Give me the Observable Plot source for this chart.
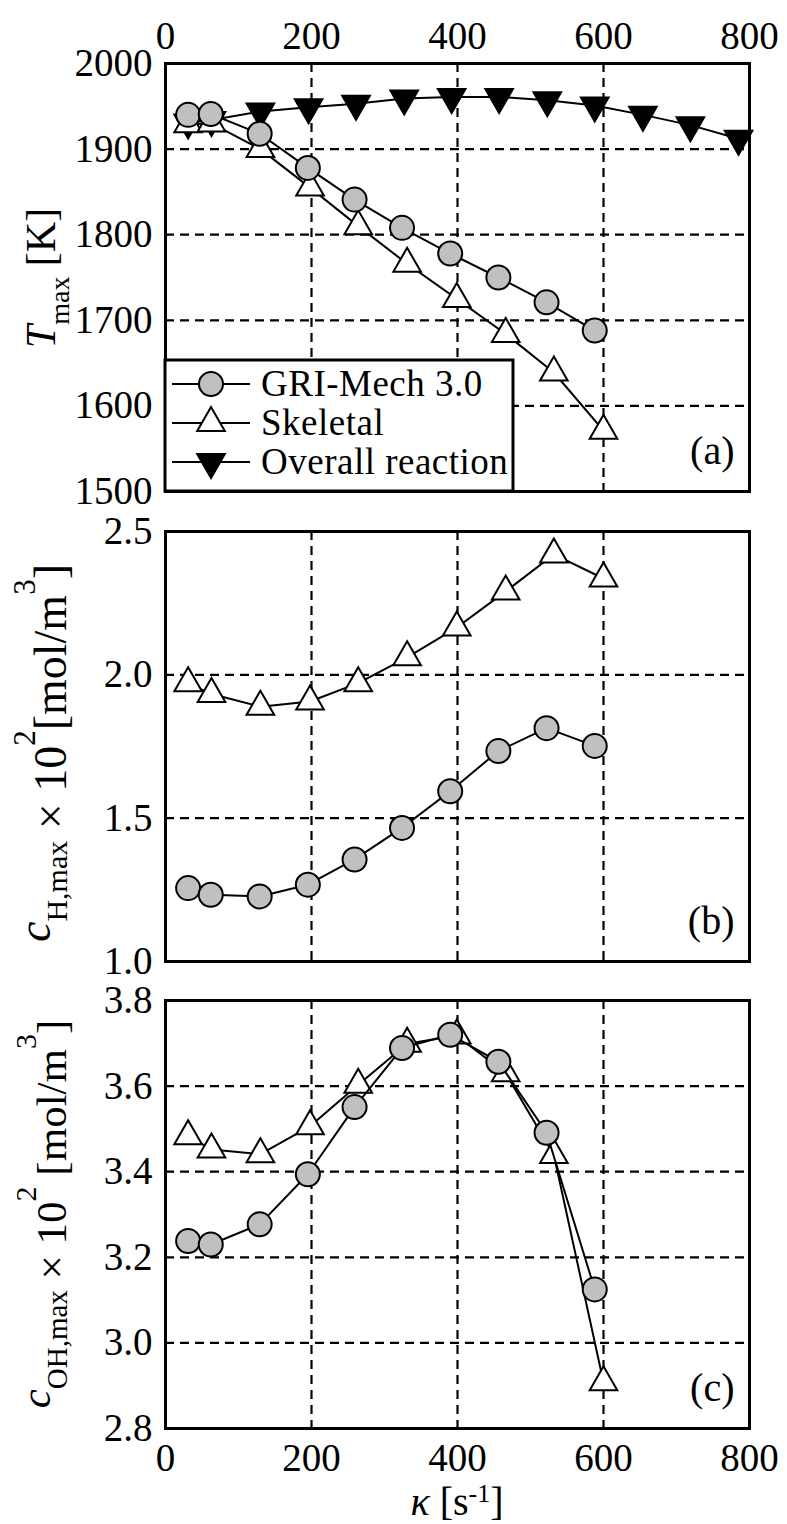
<!DOCTYPE html>
<html>
<head>
<meta charset="utf-8">
<script src="https://cdn.jsdelivr.net/npm/d3@7"></script>
<script src="https://cdn.jsdelivr.net/npm/@observablehq/plot@0.6"></script>
<style>
  html, body { margin: 0; padding: 0; background: #fff; }
  #chart { position: relative; width: 787px; height: 1524px; overflow: hidden; background: #fff; }
  #chart svg { position: absolute; left: 0; overflow: visible; max-width: none !important; }
  #chart svg text { font-family: "Liberation Serif", "Times New Roman", serif !important; fill: #000; }
</style>
</head>
<body>
<div id="chart"></div>
<script>
// ---- data ----
const kGRI = [31, 62, 129, 195, 259, 324, 390, 456, 522, 588];
const kSkel = [31, 63, 130, 198, 264, 331, 399, 466, 532, 600];
const kOverall = [31, 63, 130, 196, 261, 327, 392, 457, 523, 588, 654, 719, 785];

const TmaxGRI = [1940, 1941, 1918, 1878, 1841, 1808, 1778, 1750, 1721, 1688];
const TmaxSkel = [1929, 1930, 1900, 1855, 1810, 1766, 1725, 1684, 1639, 1571];
const TmaxOverall = [1931, 1934, 1944, 1949, 1953, 1959, 1961, 1961, 1957, 1951, 1940, 1928, 1912];

const cHGRI = [1.256, 1.233, 1.227, 1.268, 1.356, 1.466, 1.594, 1.734, 1.814, 1.752];
const cHSkel = [1.971, 1.933, 1.889, 1.907, 1.971, 2.061, 2.165, 2.291, 2.420, 2.336];

const cOHGRI = [3.238, 3.230, 3.277, 3.394, 3.551, 3.689, 3.720, 3.657, 3.491, 3.125];
const cOHSkel = [3.483, 3.452, 3.441, 3.506, 3.603, 3.699, 3.718, 3.630, 3.439, 2.908];

const xTicks = [0, 200, 400, 600, 800];
const TTicks = [1500, 1600, 1700, 1800, 1900, 2000];
const cHTicks = [1.0, 1.5, 2.0, 2.5];
const cOHTicks = [2.8, 3.0, 3.2, 3.4, 3.6, 3.8];
const seriesNames = ["GRI-Mech 3.0", "Skeletal", "Overall reaction"];

// ---- symbols ----
const triUp = { draw(ctx, size) { const r = Math.sqrt(size / Math.PI); const h = 2 * r, w = 2.3 * r;
  ctx.moveTo(0, -2 * h / 3); ctx.lineTo(w / 2, h / 3); ctx.lineTo(-w / 2, h / 3); ctx.closePath(); } };
const triDown = { draw(ctx, size) { const r = Math.sqrt(size / Math.PI); const h = 2 * r, w = 2.3 * r;
  ctx.moveTo(0, 2 * h / 3); ctx.lineTo(w / 2, -h / 3); ctx.lineTo(-w / 2, -h / 3); ctx.closePath(); } };
const styles = {
  gri: { symbol: "circle", fill: "#c0c0c0" },
  skel: { symbol: triUp, fill: "white" },
  overall: { symbol: triDown, fill: "black" }
};

const W = 787, ML = 165, MR = 38;
const FONT = "'Liberation Serif', 'Times New Roman', serif";
const TICK_FS = 39;
const R = 12;
const zip = (xs, ys) => xs.map((x, i) => ({ x, y: ys[i] }));

function seriesMarks(data, st) {
  return [
    Plot.line(data, { x: "x", y: "y", stroke: "black", strokeWidth: 2 }),
    Plot.dot(data, { x: "x", y: "y", r: R, symbol: st.symbol, fill: st.fill, stroke: "black", strokeWidth: 2 })
  ];
}

function panel({ top, mt, mb, plotH, yDomain, yTicks, yFmt, series, letter, topAxis, bottomAxis }) {
  const grid = { stroke: "black", strokeOpacity: 1, strokeWidth: 2.2, strokeDasharray: "9,6" };
  const marks = [
    Plot.gridX([200, 400, 600], grid),
    Plot.gridY(yTicks.slice(1, -1), grid),
    ...series.flatMap(([d, st]) => seriesMarks(d, st)),
    // y tick labels
    Plot.text(yTicks, { y: d => d, text: yFmt, frameAnchor: "left", textAnchor: "end", lineAnchor: "middle", dx: -13, fontSize: TICK_FS, fill: "black" }),
    Plot.text([letter], { frameAnchor: "bottom-right", dx: -15, dy: -28, fontSize: 40, fill: "black" }),
    Plot.frame({ stroke: "black", strokeWidth: 3 })
  ];
  if (topAxis) marks.push(Plot.text(xTicks, { x: d => d, text: d => String(d), frameAnchor: "top", textAnchor: "middle", lineAnchor: "bottom", dy: -15, fontSize: TICK_FS, fill: "black" }));
  if (bottomAxis) marks.push(Plot.text(xTicks, { x: d => d, text: d => String(d), frameAnchor: "bottom", textAnchor: "middle", lineAnchor: "top", dy: 15, fontSize: TICK_FS, fill: "black" }));
  const svg = Plot.plot({
    width: W, height: mt + plotH + mb,
    marginLeft: ML, marginRight: MR, marginTop: mt, marginBottom: mb,
    x: { domain: [0, 800], axis: null },
    y: { domain: yDomain, axis: null },
    style: { fontFamily: FONT, color: "black", background: "transparent", overflow: "visible" },
    marks
  });
  svg.style.top = top + "px";
  document.getElementById("chart").appendChild(svg);
  return svg;
}

// Panel (a)
const svgA = panel({
  top: 0, mt: 63, mb: 4, plotH: 428,
  yDomain: [1500, 2000], yTicks: TTicks, yFmt: d => String(d),
  series: [[zip(kOverall, TmaxOverall), styles.overall], [zip(kSkel, TmaxSkel), styles.skel], [zip(kGRI, TmaxGRI), styles.gri]],
  letter: "(a)", topAxis: true
});
// Panel (b)
const svgB = panel({
  top: 511, mt: 20, mb: 20, plotH: 430,
  yDomain: [1.0, 2.5], yTicks: cHTicks, yFmt: d3.format(".1f"),
  series: [[zip(kSkel, cHSkel), styles.skel], [zip(kGRI, cHGRI), styles.gri]],
  letter: "(b)"
});
// Panel (c)
const svgC = panel({
  top: 980, mt: 20, mb: 96, plotH: 428,
  yDomain: [2.8, 3.8], yTicks: cOHTicks, yFmt: d3.format(".1f"),
  series: [[zip(kSkel, cOHSkel), styles.skel], [zip(kGRI, cOHGRI), styles.gri]],
  letter: "(c)", bottomAxis: true
});

// ---- axis titles (rich text with sub/superscripts) ----
function richLabel(svg, x, y, rotate, parts, size) {
  const t = d3.select(svg).append("text")
    .attr("transform", `translate(${x},${y})` + (rotate ? " rotate(-90)" : ""))
    .attr("text-anchor", "middle").attr("font-family", FONT).attr("font-size", size).attr("fill", "black");
  for (const p of parts) {
    const s = t.append("tspan").text(p.t);
    if (p.dy) s.attr("dy", p.dy);
    if (p.size) s.attr("font-size", p.size);
    if (p.italic) s.attr("font-style", "italic");
  }
}
richLabel(svgA, 55, 278, true, [
  { t: "T", italic: true }, { t: "max", size: 28, dy: 14 }, { t: " [K]", dy: -14 }
], 42);
richLabel(svgB, 66, 753 - 511, true, [
  { t: "c", italic: true, dy: -16 }, { t: "H,max", size: 30, dy: 17 }, { t: " \u00d7 10", dy: -1 },
  { t: "2", size: 31, dy: -31 }, { t: "[mol/m", dy: 31 }, { t: "3", size: 31, dy: -31 }, { t: "]", dy: 31 }
], 46);
richLabel(svgC, 66, 1214 - 980, true, [
  { t: "c", italic: true, dy: -16 }, { t: "OH,max", size: 29, dy: 17 }, { t: " \u00d7 10", dy: -1 },
  { t: "2", size: 30, dy: -30 }, { t: " [mol/m", dy: 30 }, { t: "3", size: 30, dy: -30 }, { t: "]", dy: 30 }
], 43);
richLabel(svgC, 457, 1515 - 980, false, [
  { t: "\u03ba", italic: true }, { t: " [s" }, { t: "-1", size: 26, dy: -13 }, { t: "]", dy: 13 }
], 40);

// ---- legend (inside panel a) ----
(function legend() {
  const g = d3.select(svgA).append("g").attr("text-anchor", "start");
  g.append("rect").attr("x", 165).attr("y", 360).attr("width", 348).attr("height", 131)
    .attr("fill", "white").attr("stroke", "black").attr("stroke-width", 3);
  const rows = [
    { name: seriesNames[0], st: styles.gri, y: 384 },
    { name: seriesNames[1], st: styles.skel, y: 423 },
    { name: seriesNames[2], st: styles.overall, y: 462 }
  ];
  for (const row of rows) {
    g.append("line").attr("x1", 172).attr("x2", 250).attr("y1", row.y).attr("y2", row.y)
      .attr("stroke", "black").attr("stroke-width", 2);
    const sym = typeof row.st.symbol === "string" ? d3.symbolCircle : row.st.symbol;
    g.append("path").attr("d", d3.symbol(sym, R * R * Math.PI)())
      .attr("transform", `translate(211,${row.y})`)
      .attr("fill", row.st.fill).attr("stroke", "black").attr("stroke-width", 2);
    g.append("text").attr("x", 261).attr("y", row.y + 12).attr("text-anchor", "start").attr("font-family", FONT)
      .attr("font-size", 37).attr("letter-spacing", 0.5).attr("fill", "black").text(row.name);
  }
})();
</script>
</body>
</html>
